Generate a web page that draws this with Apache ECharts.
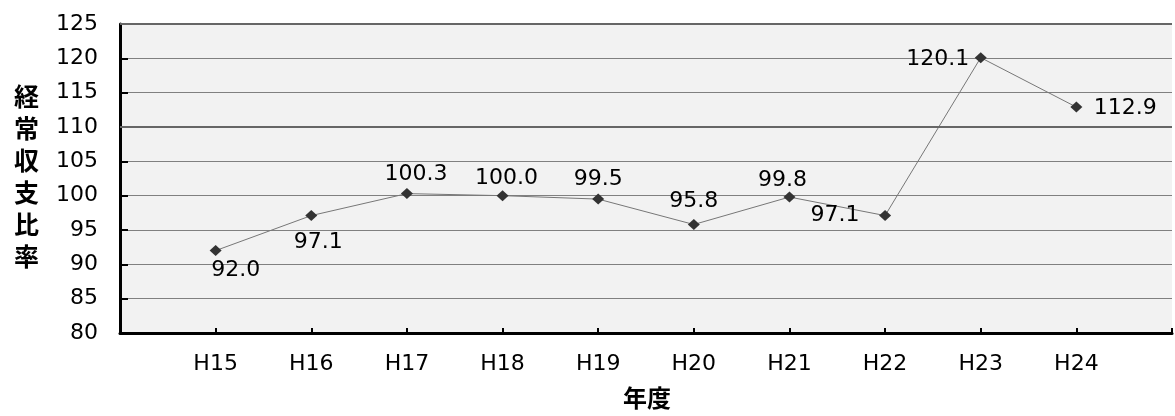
<!DOCTYPE html>
<html>
<head>
<meta charset="utf-8">
<script src="https://cdn.jsdelivr.net/npm/echarts@6/dist/echarts.min.js"></script>
<style>
html,body{margin:0;padding:0;background:#fff;}
#chart{width:1175px;height:416px;}
</style>
</head>
<body>
<div id="chart"></div>
<script>
const categories = ['H15','H16','H17','H18','H19','H20','H21','H22','H23','H24'];
const values = [92.0, 97.1, 100.3, 100.0, 99.5, 95.8, 99.8, 97.1, 120.1, 112.9];
const yTicks = [80, 85, 90, 95, 100, 105, 110, 115, 120, 125];
const labelOffsets = [[20,20],[7,27],[9,-19],[4,-17],[0,-20],[0,-23],[-7,-17],[-50,0],[-43,2],[49,1]];

const FONT = 'DejaVu Sans';
const chart = echarts.init(document.getElementById('chart'), null, {renderer:'canvas'});

const seriesData = values.map((v, i) => ({
  value: [i, v],
  label: {
    show: true,
    position: 'inside',
    offset: labelOffsets[i],
    formatter: (p) => p.value[1].toFixed(1),
    fontFamily: FONT, fontSize: 22, color: '#000'
  }
}));

chart.setOption({
  animation: false,
  backgroundColor: '#ffffff',
  grid: {left: 120, right: -9, top: 24, bottom: 83, show: true, backgroundColor: '#f2f2f2', borderWidth: 0},
  xAxis: {
    type: 'value', min: -1, max: categories.length, interval: 1,
    axisLine: {show: true, onZero: false, lineStyle: {color: '#000', width: 3}},
    axisTick: {show: true, inside: true, length: 5, lineStyle: {color: '#000', width: 2}},
    axisLabel: {
      margin: 20, fontFamily: FONT, fontSize: 22, color: '#000',
      formatter: (v) => (v >= 0 && v < categories.length) ? categories[v] : ''
    },
    splitLine: {show: false}
  },
  yAxis: {
    type: 'value', min: yTicks[0], max: yTicks[yTicks.length-1], interval: 5,
    axisLine: {show: true, onZero: false, lineStyle: {color: '#000', width: 3}},
    axisTick: {show: true, inside: true, length: 8, lineStyle: {color: '#000', width: 2}},
    axisLabel: {margin: 22, fontFamily: FONT, fontSize: 22, color: '#000'},
    splitLine: {show: true, lineStyle: {color: '#808080', width: 1}}
  },
  graphic: [
    {type: 'text', left: 14, top: 80, style: {text: '経\n常\n収\n支\n比\n率', font: 'bold 25px "Noto Sans CJK JP"', lineHeight: 32, fill: '#000'}},
    {type: 'text', left: 623, top: 386, style: {text: '年度', font: 'bold 24px "Noto Sans CJK JP"', fill: '#000'}}
  ],
  series: [{
    type: 'line',
    data: seriesData,
    symbol: 'diamond',
    symbolSize: [12, 11],
    itemStyle: {color: '#333333'},
    lineStyle: {color: '#777777', width: 1},
    markLine: {
      silent: true, symbol: ['none','none'], label: {show: false},
      lineStyle: {color: '#666666', width: 2, type: 'solid'},
      data: [{yAxis: 110}, {yAxis: 125}]
    },
    z: 3
  }]
});
</script>
</body>
</html>
